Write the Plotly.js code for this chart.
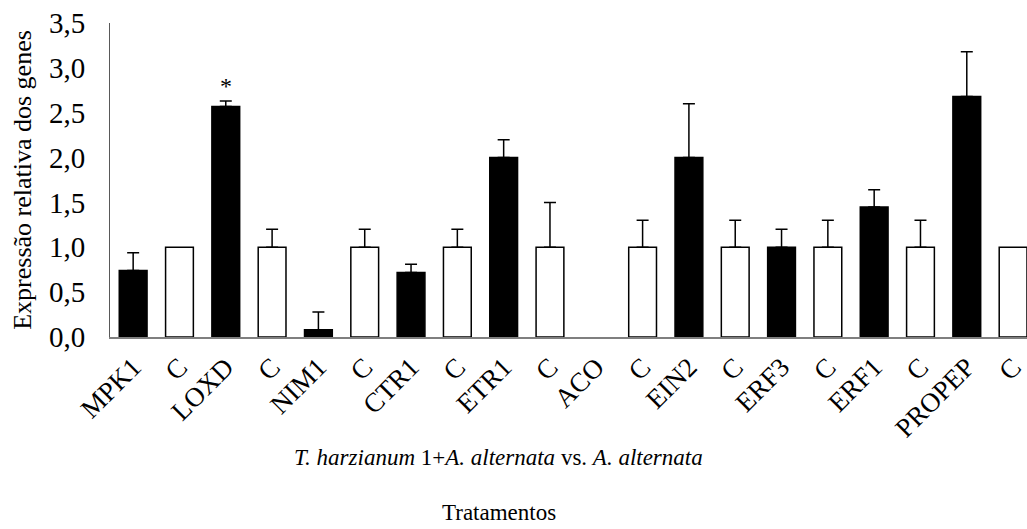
<!DOCTYPE html>
<html>
<head>
<meta charset="utf-8">
<script src="https://cdn.plot.ly/plotly-3.0.1.min.js"></script>
<style>html,body{margin:0;padding:0;background:#fff;}#chart{width:1027px;height:529px;}</style>
</head>
<body>
<div id="chart"></div>
<script>
const labels = ["MPK1","C","LOXD","C","NIM1","C","CTR1","C","ETR1","C","ACO","C","EIN2","C","ERF3","C","ERF1","C","PROPEP","C"];
const values = [0.74,1.0,2.57,1.0,0.08,1.0,0.72,1.0,2.0,1.0,0.0,1.0,2.0,1.0,1.0,1.0,1.45,1.0,2.68,1.0];
const errors = [0.2,0,0.06,0.2,0.2,0.2,0.09,0.2,0.2,0.5,0,0.3,0.6,0.3,0.2,0.3,0.19,0.3,0.5,0];
const significant = ["LOXD"];

const FONT = "Liberation Serif, Times New Roman, serif";
const xs = labels.map((_, i) => i);
const isControl = labels.map(l => l === "C");

const trace = {
  type: "bar",
  x: xs,
  y: values,
  width: 0.6,
  marker: {
    color: isControl.map(c => c ? "#ffffff" : "#000000"),
    opacity: values.map(v => v > 0 ? 1 : 0),
    line: {color: "#000000", width: values.map(v => v > 0 ? 1.5 : 0)}
  },
  error_y: {
    type: "data",
    symmetric: false,
    array: errors.map(e => e > 0 ? e : NaN),
    arrayminus: errors.map(e => e > 0 ? 0 : NaN),
    color: "#000000",
    thickness: 1.5,
    width: 6
  },
  hoverinfo: "skip"
};

const annotations = [];
labels.forEach((l, i) => {
  if (significant.includes(l)) {
    annotations.push({
      x: i, y: values[i] + errors[i], xref: "x", yref: "y",
      text: "*", showarrow: false, yanchor: "bottom", yshift: 0,
      font: {family: FONT, size: 24, color: "#000"}
    });
  }
});
annotations.push({
  xref: "paper", yref: "paper", x: 0.424, y: -0.385, xanchor: "center", yanchor: "middle",
  text: "<i>T. harzianum</i> 1+<i>A. alternata</i> vs. <i>A. alternata</i>",
  showarrow: false, font: {family: FONT, size: 23, color: "#000"}
});
annotations.push({
  xref: "paper", yref: "paper", x: 0.424, y: -0.56, xanchor: "center", yanchor: "middle",
  text: "Tratamentos",
  showarrow: false, font: {family: FONT, size: 23, color: "#000"}
});

const layout = {
  width: 1027, height: 529,
  margin: {l: 110, r: 0, t: 23, b: 192},
  paper_bgcolor: "#fff", plot_bgcolor: "#fff",
  separators: ",.",
  showlegend: false,
  font: {family: FONT, size: 22, color: "#000"},
  xaxis: {
    range: [-0.5, 19.3],
    tickmode: "array", tickvals: xs, ticktext: labels,
    tickangle: -45, ticks: "", showgrid: false, zeroline: false,
    showline: true, linecolor: "#7f7f7f", linewidth: 1.5,
    tickfont: {family: FONT, size: 27, color: "#000"},
    ticklabelstandoff: 2,
    automargin: false,
    fixedrange: true
  },
  yaxis: {
    range: [0, 3.5],
    tickvals: [0,0.5,1,1.5,2,2.5,3,3.5], tickformat: ".1f",
    ticks: "", ticklen: 0, showgrid: false, zeroline: false,
    showline: true, linecolor: "#595959", linewidth: 1,
    tickfont: {family: FONT, size: 29, color: "#000"},
    ticklabelstandoff: 18,
    title: {text: "Expressão relativa dos genes", font: {family: FONT, size: 26, color: "#000"}, standoff: 9},
    automargin: false,
    fixedrange: true
  },
  annotations: annotations
};

Plotly.newPlot("chart", [trace], layout, {displayModeBar: false, staticPlot: true});
</script>
</body>
</html>
